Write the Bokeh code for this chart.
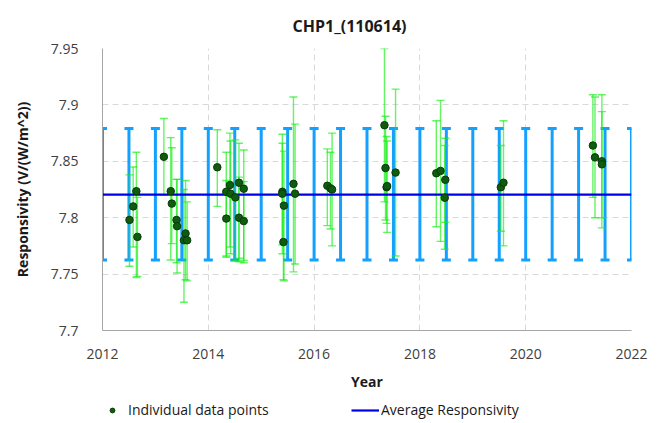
from bokeh.plotting import figure
from bokeh.layouts import column
from bokeh.models import (Range1d, FixedTicker, CustomJSTickFormatter, Legend,
                          LegendItem, ColumnDataSource)
from bokeh.embed import file_html
from bokeh.resources import INLINE

# ---- data ----
years = [2012.51, 2012.58, 2012.64, 2012.66,
         2013.16, 2013.29, 2013.31, 2013.40, 2013.41, 2013.57, 2013.54, 2013.60,
         2014.17, 2014.34, 2014.41, 2014.42, 2014.51, 2014.34, 2014.58, 2014.67, 2014.58, 2014.67,
         2015.40, 2015.40, 2015.43, 2015.42, 2015.61, 2015.64,
         2016.25, 2016.31, 2016.34,
         2017.33, 2017.35, 2017.37, 2017.38, 2017.54,
         2018.31, 2018.39, 2018.48, 2018.47,
         2019.53, 2019.58,
         2021.27, 2021.31, 2021.44, 2021.44]
values = [7.798, 7.810, 7.8235, 7.783,
          7.854, 7.8235, 7.8125, 7.798, 7.7925, 7.786, 7.780, 7.780,
          7.8447, 7.823, 7.829, 7.8213, 7.818, 7.7992, 7.831, 7.8257, 7.800, 7.797,
          7.823, 7.8213, 7.8107, 7.7784, 7.830, 7.8213,
          7.8283, 7.826, 7.825,
          7.882, 7.844, 7.827, 7.828, 7.840,
          7.8394, 7.8415, 7.8336, 7.8177,
          7.827, 7.831,
          7.864, 7.8535, 7.850, 7.8473]
lower = [7.757, 7.774, 7.747, 7.748,
         7.820, 7.7625, 7.777, 7.760, 7.751, 7.745, 7.725, 7.744,
         7.810, 7.765, 7.774, 7.768, 7.762, 7.766, 7.761, 7.760, 7.764, 7.762,
         7.768, 7.776, 7.744, 7.745, 7.752, 7.759,
         7.793, 7.790, 7.775,
         7.814, 7.798, 7.795, 7.787, 7.766,
         7.792, 7.779, 7.796, 7.772,
         7.788, 7.775,
         7.818, 7.800, 7.791, 7.800]
upper = [7.838, 7.845, 7.858, 7.818,
         7.888, 7.871, 7.862, 7.834, 7.834, 7.833, 7.825, 7.814,
         7.878, 7.858, 7.875, 7.868, 7.869, 7.833, 7.866, 7.860, 7.836, 7.832,
         7.874, 7.866, 7.859, 7.812, 7.907, 7.883,
         7.861, 7.858, 7.875,
         7.950, 7.890, 7.872, 7.868, 7.914,
         7.886, 7.904, 7.8705, 7.864,
         7.864, 7.886,
         7.909, 7.907, 7.909, 7.894]

avg_value = 7.8205
avg_lower = 7.7625
avg_upper = 7.879
avg_years = [2012.0, 2012.5, 2013.0, 2013.5, 2014.0, 2014.5, 2015.0, 2015.5,
             2016.0, 2016.5, 2017.0, 2017.5, 2018.0, 2018.5, 2019.0, 2019.5,
             2020.0, 2020.5, 2021.0, 2021.5, 2022.0]
avg_line_x = [2012.0, 2022.0]

x_ticks = [2012, 2014, 2016, 2018, 2020, 2022]
y_ticks = [7.7, 7.75, 7.8, 7.85, 7.9, 7.95]

FONT = "Open Sans"
BLUE = "#14a0ff"
GREEN = "#11ee11"
AVG = "#0000e6"
DOT_FILL = "#0e5c0e"
DOT_LINE = "#0a3a0a"

pts_src = ColumnDataSource(dict(x=years, y=values, lo=lower, hi=upper))
avg_src = ColumnDataSource(dict(x=avg_years,
                                lo=[avg_lower] * len(avg_years),
                                hi=[avg_upper] * len(avg_years)))

p = figure(width=655, height=393, output_backend="svg", toolbar_location=None,
           x_range=Range1d(2012, 2022), y_range=Range1d(7.7, 7.95),
           min_border_left=102, min_border_right=24, min_border_top=47,
           min_border_bottom=62)

p.title.text = "CHP1_(110614)"
p.title.align = "left"
p.title.offset = 190
p.title.standoff = 24
p.title.text_font = FONT
p.title.text_font_size = "16px"
p.title.text_font_style = "bold"
p.title.text_color = "#1a1a1a"

p.outline_line_color = None
p.background_fill_color = "white"

# average uncertainty bars
p.segment(x0="x", y0="lo", x1="x", y1="hi", source=avg_src,
          line_color=BLUE, line_width=3)
p.scatter(x="x", y="hi", source=avg_src, marker="dash", size=9,
          line_color=BLUE, line_width=3)
p.scatter(x="x", y="lo", source=avg_src, marker="dash", size=9,
          line_color=BLUE, line_width=3)

# individual error bars
p.segment(x0="x", y0="lo", x1="x", y1="hi", source=pts_src,
          line_color=GREEN, line_alpha=0.65, line_width=1.4)
p.scatter(x="x", y="hi", source=pts_src, marker="dash", size=8,
          line_color=GREEN, line_alpha=0.65, line_width=1.4)
p.scatter(x="x", y="lo", source=pts_src, marker="dash", size=8,
          line_color=GREEN, line_alpha=0.65, line_width=1.4)

p.line(x=avg_line_x, y=[avg_value, avg_value], line_color=AVG, line_width=2.2)

p.scatter(x="x", y="y", source=pts_src, size=7.5, marker="circle",
          fill_color=DOT_FILL, line_color=DOT_LINE, line_width=1)

# axes
for ax in (p.xaxis[0], p.yaxis[0]):
    ax.major_tick_line_color = None
    ax.minor_tick_line_color = None
    ax.axis_line_color = "#a6a6a6"
    ax.major_label_text_font = FONT
    ax.major_label_text_font_size = "14px"
    ax.major_label_text_color = "#404040"
    ax.axis_label_text_font = FONT
    ax.axis_label_text_font_size = "14px"
    ax.axis_label_text_font_style = "bold"
    ax.axis_label_text_color = "#1a1a1a"

p.xaxis.ticker = FixedTicker(ticks=x_ticks)
p.yaxis.ticker = FixedTicker(ticks=y_ticks)
p.yaxis.formatter = CustomJSTickFormatter(code="return String(Number(tick.toFixed(2)));")
p.xaxis.axis_label = "Year"
p.yaxis.axis_label = "Responsivity (V/(W/m^2))"
p.xaxis.major_label_standoff = 12
p.yaxis.major_label_standoff = 18
p.xaxis.axis_label_standoff = 10
p.yaxis.axis_label_standoff = 16

for g in (p.xgrid[0], p.ygrid[0]):
    g.grid_line_color = "#d9d9d9"
    g.grid_line_dash = "6 4"
    g.grid_line_width = 1

# ---- legend strip below the chart (proxy glyphs lie outside its range) ----
lg = figure(width=655, height=28, output_backend="svg", toolbar_location=None,
            x_axis_location=None, y_axis_location=None,
            x_range=Range1d(0, 1), y_range=Range1d(0, 1),
            min_border_left=0, min_border_right=0, min_border_top=0,
            min_border_bottom=0)
lg.outline_line_color = None
lg.xgrid.visible = False
lg.ygrid.visible = False
leg_pts = lg.scatter(x=[years[0]], y=[values[0]], size=6, marker="circle",
                     fill_color=DOT_FILL, line_color=DOT_LINE, line_width=1)
leg_avg = lg.line(x=avg_line_x, y=[avg_value, avg_value], line_color=AVG,
                  line_width=2.2)

legend = Legend(items=[LegendItem(label="Individual data points", renderers=[leg_pts]),
                       LegendItem(label="Average Responsivity", renderers=[leg_avg])],
                orientation="horizontal", location=(-4, 2),
                label_text_font=FONT, label_text_font_size="14px",
                label_text_color="#1a1a1a",
                glyph_width=28, glyph_height=12, label_width=223, label_height=14,
                spacing=0, padding=0, margin=0, label_standoff=2,
                border_line_color=None, background_fill_alpha=0)
lg.add_layout(legend, "center")

layout = column(p, lg, spacing=0)

open("out.html", "w").write(file_html(layout, INLINE))
